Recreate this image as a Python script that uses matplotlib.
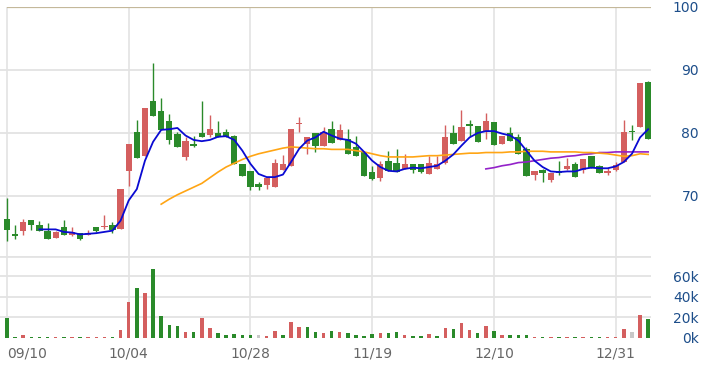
import matplotlib
matplotlib.use("Agg")
import matplotlib.pyplot as plt
import numpy as np

# ---------------- data ----------------
date_labels = ["09/10", "10/04", "10/28", "11/19", "12/10", "12/31"]
label_index = [0, 15, 30, 45, 60, 75]

opens = [66.4, 64.0, 64.4, 66.2, 65.4, 64.5, 63.4, 65.0, 63.8, 64.2,
         63.8, 65.0, 65.0, 65.4, 64.7, 73.9, 80.1, 76.3, 85.1, 83.5,
         81.9, 79.9, 76.2, 78.3, 80.0, 79.7, 80.0, 80.2, 79.5, 75.1,
         74.0, 71.9, 71.8, 71.4, 74.1, 74.8, 81.4, 78.3, 80.0, 78.0,
         80.6, 78.9, 79.1, 77.8, 77.0, 73.8, 72.9, 75.5, 75.3, 74.3,
         75.0, 75.0, 73.5, 74.3, 75.3, 80.0, 78.8, 81.4, 81.1, 80.3,
         81.8, 78.3, 80.0, 79.3, 77.5, 73.4, 74.1, 72.6, 73.9, 74.3,
         75.0, 74.2, 76.4, 74.7, 73.6, 74.2, 75.4, 80.3, 80.9, 88.1]
highs = [69.7, 65.4, 66.3, 66.2, 66.0, 65.7, 64.4, 66.2, 65.0, 64.2,
         64.6, 65.1, 67.0, 65.8, 71.1, 78.2, 82.1, 83.9, 91.1, 85.5,
         83.0, 80.2, 79.3, 79.6, 85.1, 82.9, 81.9, 80.6, 79.7, 75.1,
         74.0, 72.2, 72.8, 75.9, 76.5, 80.7, 82.6, 79.3, 80.0, 80.9,
         81.9, 81.4, 80.7, 79.6, 77.0, 74.7, 75.6, 77.1, 77.5, 76.7,
         75.0, 75.1, 76.4, 76.3, 81.2, 81.2, 83.6, 82.0, 81.1, 83.2,
         81.8, 79.5, 81.0, 79.9, 77.8, 74.0, 74.3, 73.7, 75.6, 76.1,
         75.4, 75.9, 76.4, 74.9, 74.4, 75.4, 82.0, 81.2, 88.0, 88.3]
lows = [62.8, 63.1, 63.8, 64.6, 64.4, 63.1, 63.3, 63.8, 63.6, 63.0,
        63.8, 64.3, 64.7, 64.2, 64.7, 71.6, 76.1, 76.3, 82.7, 80.5,
        78.3, 77.8, 75.7, 77.8, 79.4, 79.4, 79.3, 79.3, 75.0, 73.1,
        71.0, 70.9, 71.1, 71.4, 74.1, 74.8, 80.2, 76.7, 77.0, 78.0,
        78.4, 78.9, 76.7, 76.3, 73.1, 72.6, 72.4, 74.0, 73.8, 74.3,
        73.6, 73.7, 73.5, 74.3, 75.0, 78.3, 78.8, 79.6, 78.6, 79.1,
        78.1, 78.3, 78.8, 76.6, 73.1, 72.6, 72.2, 72.3, 73.4, 74.1,
        73.0, 73.6, 74.5, 73.6, 73.4, 74.0, 75.4, 78.9, 80.9, 79.1]
closes = [64.6, 63.6, 65.8, 65.4, 64.4, 63.1, 64.3, 63.8, 64.3, 63.1,
          64.2, 64.5, 65.3, 64.6, 71.1, 78.2, 76.1, 83.9, 82.7, 80.5,
          78.9, 77.8, 78.7, 78.0, 79.4, 80.7, 79.4, 79.3, 75.0, 73.1,
          71.4, 71.4, 72.8, 75.3, 75.1, 80.7, 81.6, 79.3, 77.9, 80.1,
          78.4, 80.4, 76.7, 76.3, 73.1, 72.7, 75.1, 74.0, 73.8, 75.1,
          74.2, 73.8, 75.2, 75.0, 79.3, 78.3, 80.9, 81.1, 78.6, 81.9,
          78.1, 79.5, 78.8, 76.6, 73.1, 74.0, 73.6, 73.7, 73.6, 74.7,
          73.0, 75.9, 74.5, 73.6, 73.9, 74.9, 80.1, 80.1, 88.0, 79.1]
volumes_k = [19, 1.0, 2.6, 1.0, 0.3, 0.2, 0.2, 0.8, 0.2, 0.2,
             0.2, 0.3, 1.0, 0.3, 8, 35, 48.5, 43.6, 67, 21,
             12.8, 11.5, 5.6, 5.6, 19, 9.2, 4.3, 3, 4, 3,
             3, 3, 1.3, 6.5, 3, 15.4, 10, 10, 5.2, 4.3,
             6.9, 5.6, 4.3, 2.6, 1.3, 3.3, 4.3, 4.3, 5.2, 2.6,
             1.3, 1.3, 4, 1.3, 9.2, 8.2, 14, 7.2, 4.3, 11.5,
             6.9, 3, 3, 3, 3, 1, 0.6, 0.5, 0.5, 0.5,
             0.5, 0.5, 0.5, 0.5, 0.3, 0.5, 8.5, 5.2, 22.4, 18.5]

ma5_start = 4
ma5 = [64.7, 64.7, 64.7, 64.3, 64.2, 63.9, 64.0, 64.1, 64.3, 64.5,
       66.1, 69.3, 71.1, 75.6, 78.6, 80.5, 80.6, 80.8, 79.6, 78.9,
       78.7, 78.9, 79.4, 79.5, 78.9, 77.2, 75.1, 73.5, 73.0, 73.0,
       73.4, 75.4, 77.5, 78.8, 79.3, 80.2, 79.6, 79.1, 78.9, 78.3,
       77.0, 75.6, 74.6, 74.0, 73.9, 74.3, 74.5, 74.4, 74.6, 74.8,
       75.6, 76.6, 78.0, 79.3, 80.0, 80.3, 80.3, 79.9, 79.6, 78.8,
       77.2, 75.6, 74.6, 73.9, 73.8, 73.9, 73.9, 74.3, 74.5, 74.4,
       74.4, 74.7, 75.4, 76.7, 79.3, 80.6]
ma20_start = 19
ma20 = [68.7, 69.5, 70.2, 70.8, 71.4, 72.0, 72.9, 73.8, 74.6, 75.2,
        75.8, 76.3, 76.7, 77.0, 77.3, 77.6, 77.8, 77.7, 77.6, 77.5,
        77.5, 77.4, 77.4, 77.4, 77.2, 77.0, 76.7, 76.4, 76.2, 76.2,
        76.2, 76.2, 76.3, 76.4, 76.4, 76.5, 76.6, 76.7, 76.8, 76.8,
        76.9, 76.9, 76.9, 77.0, 77.0, 77.1, 77.1, 77.1, 77.0, 77.0,
        77.0, 77.0, 76.9, 76.9, 76.8, 76.7, 76.5, 76.3, 76.4, 76.7,
        76.6]
ma60_start = 59
ma60 = [74.3, 74.5, 74.8, 75.0, 75.3, 75.4, 75.6, 75.8, 76.0, 76.1,
        76.3, 76.4, 76.6, 76.7, 76.9, 76.9, 77.0, 77.0, 77.0, 77.0,
        77.0]

price_ticks = [70, 80, 90, 100]
vol_ticks_k = [0, 20, 40, 60]

# ---------------- style ----------------
UP = "#d45f5f"
DOWN = "#2a8a2a"
FLAT = "#c8c8c8"
GRID = "#e3e3e3"
LABEL_BLUE = "#1d4e8a"

W, H = 708, 366
fig = plt.figure(figsize=(W / 100, H / 100), dpi=100)

def frac(x0, y0, x1, y1):
    return [x0 / W, 1 - y1 / H, (x1 - x0) / W, (y1 - y0) / H]

ax = fig.add_axes(frac(0, 7, 651, 259))
axv = fig.add_axes(frac(0, 255.7, 651, 337.7))

n = len(closes)
x = np.arange(n)
xlim = (-0.86, 79.35)

for a in (ax, axv):
    a.set_xlim(*xlim)
    for s in a.spines.values():
        s.set_visible(False)
    a.tick_params(axis="both", length=0)
    for li in label_index:
        a.axvline(li, color=GRID, lw=1.2, zorder=0)

# ----- price panel -----
ax.set_ylim(60, 100)
for v in [60, 70, 80, 90]:
    ax.axhline(v, color=GRID, lw=1.3 if v != 60 else 2.0, zorder=0)
ax.hlines(100, 0, xlim[1], color="#c4b89a", lw=1.6, zorder=1)

o = np.array(opens); c = np.array(closes)
hi = np.array(highs); lo = np.array(lows)
ccol = [UP if c[i] > o[i] else DOWN for i in range(n)]
ax.vlines(x, lo, hi, colors=ccol, lw=1.0, zorder=2)
body_bottom = np.minimum(o, c)
body_h = np.maximum(np.abs(c - o), 0.12)
ax.bar(x, body_h, bottom=body_bottom, width=0.78, color=ccol, lw=0, zorder=3)

ax.plot(np.arange(ma60_start, ma60_start + len(ma60)), ma60, color="#9322c9", lw=1.2, zorder=4)
ax.plot(np.arange(ma20_start, ma20_start + len(ma20)), ma20, color="#ffa514", lw=1.2, zorder=4)
ax.plot(np.arange(ma5_start, ma5_start + len(ma5)), ma5, color="#0a0ad2", lw=1.3, zorder=5)

ax.set_xticks([])
ax.yaxis.tick_right()
ax.set_yticks(price_ticks)
ax.set_yticklabels([str(t) for t in price_ticks])
ax.tick_params(axis="y", labelsize=10, labelcolor=LABEL_BLUE, pad=34.6)
for t in ax.get_yticklabels():
    t.set_horizontalalignment("right")

# ----- volume panel -----
vol = np.array(volumes_k) * 1000
vcol = []
for i in range(n):
    if i == 0:
        vcol.append(ccol[0])
    elif c[i] > c[i - 1]:
        vcol.append(UP)
    elif c[i] < c[i - 1]:
        vcol.append(DOWN)
    else:
        vcol.append(FLAT)
axv.set_ylim(0, 80000)
for v in [20000, 40000, 60000, 80000]:
    axv.axhline(v, color=GRID, lw=1.3 if v != 80000 else 2.0, zorder=0)
axv.bar(x, vol, width=0.43, color=vcol, lw=0, zorder=3)
axv.yaxis.tick_right()
axv.set_yticks([t * 1000 for t in vol_ticks_k])
axv.set_yticklabels([f"{t}k" for t in vol_ticks_k])
axv.tick_params(axis="y", labelsize=10, labelcolor=LABEL_BLUE, pad=34.6)
for t in axv.get_yticklabels():
    t.set_horizontalalignment("right")
axv.set_xticks(label_index)
axv.set_xticklabels(date_labels)
axv.tick_params(axis="x", labelsize=10, labelcolor="#666666", pad=6)
xl = axv.get_xticklabels()
xl[0].set_horizontalalignment("left")
xl[0].set_x(-0.25)

fig.savefig("out.png", dpi=100)
